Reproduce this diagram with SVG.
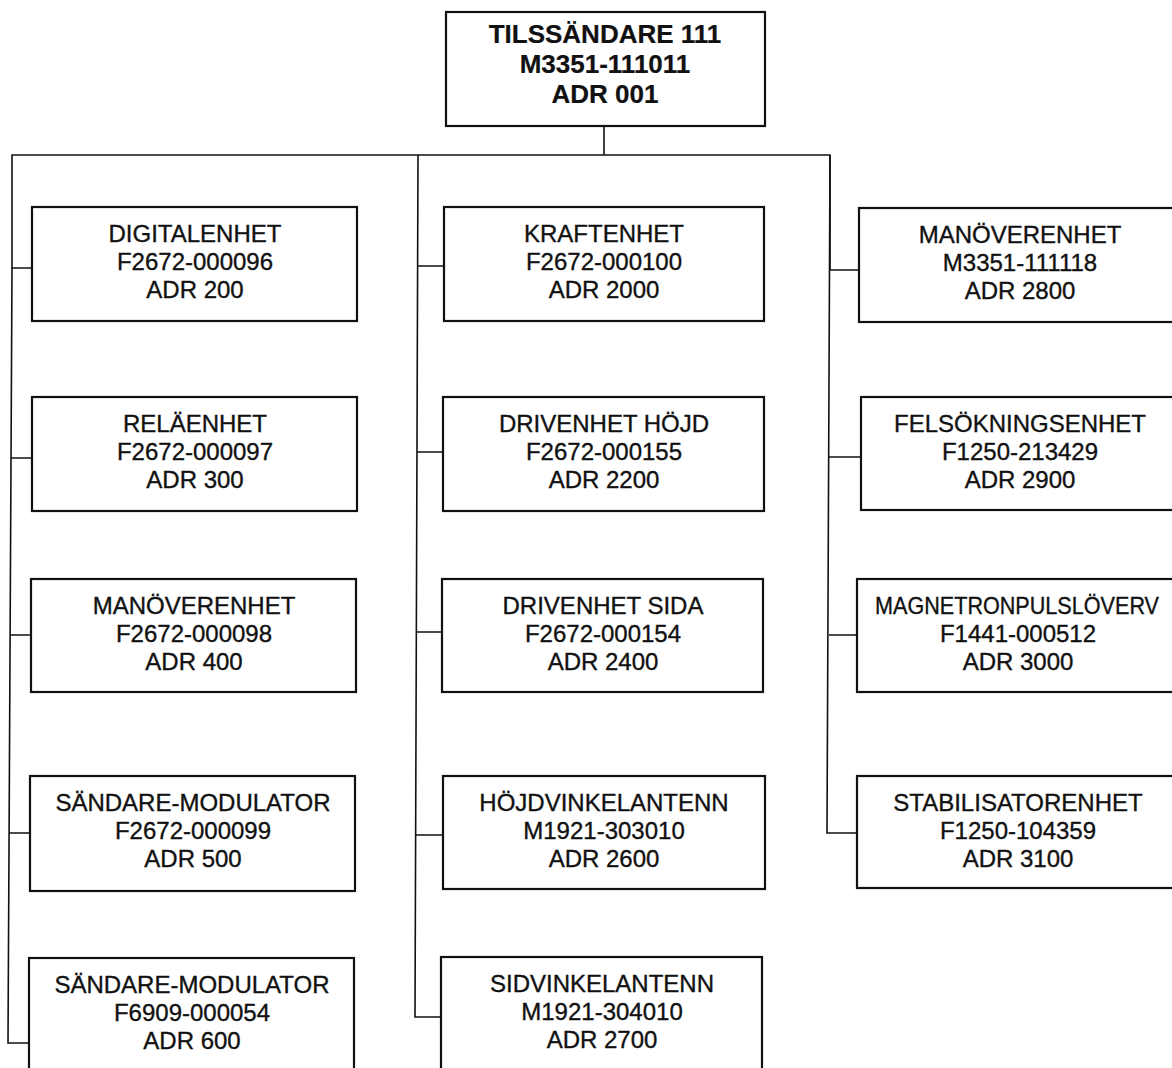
<svg xmlns="http://www.w3.org/2000/svg" width="1172" height="1068" viewBox="0 0 1172 1068">
<style>
.box{fill:#fff;stroke:#111;stroke-width:2.2}
.con{fill:none;stroke:#111;stroke-width:1.6}
text{font-family:"Liberation Sans",Arial,Helvetica,sans-serif;font-size:24px;fill:#111;text-anchor:middle;stroke:#111;stroke-width:0.35}
.b{font-weight:bold;font-size:26px;stroke-width:0.2}
</style>
<rect width="1172" height="1068" fill="#fff"/>
<g id="connectors">
<path class="con" d="M604 126 V155"/>
<path class="con" d="M32 268 H12 V155 H830 V270"/>
<path class="con" d="M12 268 L8 1043 H30"/>
<path class="con" d="M11 458 H32 M10 635 H31 M9 833 H31"/>
<path class="con" d="M418 155 L415 1017 H442"/>
<path class="con" d="M418 266 H444 M417 452 H443 M416 632 H442 M416 835 H443"/>
<path class="con" d="M830 155 L827 833 H857"/>
<path class="con" d="M830 270 H859 M829 457 H861 M829 635 H857"/>
</g>
<g id="n-top"><rect class="box" x="446" y="12" width="319" height="114"/>
<text class="b" x="605" y="43">TILSSÄNDARE 111</text><text class="b" x="605" y="73">M3351-111011</text><text class="b" x="605" y="103">ADR 001</text></g>

<g id="n-digital"><rect class="box" x="32" y="207" width="325" height="114"/>
<text x="195" y="242">DIGITALENHET</text><text x="195" y="270">F2672-000096</text><text x="195" y="298">ADR 200</text></g>
<g id="n-rela"><rect class="box" x="32" y="397" width="325" height="114"/>
<text x="195" y="432">RELÄENHET</text><text x="195" y="460">F2672-000097</text><text x="195" y="488">ADR 300</text></g>
<g id="n-manover1"><rect class="box" x="31" y="579" width="325" height="113"/>
<text x="194" y="614">MANÖVERENHET</text><text x="194" y="642">F2672-000098</text><text x="194" y="670">ADR 400</text></g>
<g id="n-sandare1"><rect class="box" x="30" y="776" width="325" height="115"/>
<text x="193" y="811">SÄNDARE-MODULATOR</text><text x="193" y="839">F2672-000099</text><text x="193" y="867">ADR 500</text></g>
<g id="n-sandare2"><rect class="box" x="29" y="958" width="325" height="125"/>
<text x="192" y="993">SÄNDARE-MODULATOR</text><text x="192" y="1021">F6909-000054</text><text x="192" y="1049">ADR 600</text></g>

<g id="n-kraft"><rect class="box" x="444" y="207" width="320" height="114"/>
<text x="604" y="242">KRAFTENHET</text><text x="604" y="270">F2672-000100</text><text x="604" y="298">ADR 2000</text></g>
<g id="n-drivhojd"><rect class="box" x="443" y="397" width="321" height="114"/>
<text x="604" y="432">DRIVENHET HÖJD</text><text x="604" y="460">F2672-000155</text><text x="604" y="488">ADR 2200</text></g>
<g id="n-drivsida"><rect class="box" x="442" y="579" width="321" height="113"/>
<text x="603" y="614">DRIVENHET SIDA</text><text x="603" y="642">F2672-000154</text><text x="603" y="670">ADR 2400</text></g>
<g id="n-hojdvink"><rect class="box" x="443" y="776" width="322" height="113"/>
<text x="604" y="811">HÖJDVINKELANTENN</text><text x="604" y="839">M1921-303010</text><text x="604" y="867">ADR 2600</text></g>
<g id="n-sidvink"><rect class="box" x="441" y="957" width="321" height="125"/>
<text x="602" y="992">SIDVINKELANTENN</text><text x="602" y="1020">M1921-304010</text><text x="602" y="1048">ADR 2700</text></g>

<g id="n-manover2"><rect class="box" x="859" y="208" width="325" height="114"/>
<text x="1020" y="243">MANÖVERENHET</text><text x="1020" y="271">M3351-111118</text><text x="1020" y="299">ADR 2800</text></g>
<g id="n-felsok"><rect class="box" x="861" y="397" width="325" height="113"/>
<text x="1020" y="432">FELSÖKNINGSENHET</text><text x="1020" y="460">F1250-213429</text><text x="1020" y="488">ADR 2900</text></g>
<g id="n-magnetron"><rect class="box" x="857" y="579" width="325" height="113"/>
<text x="1017" y="614" font-size="22" textLength="284" lengthAdjust="spacingAndGlyphs">MAGNETRONPULSLÖVERV</text><text x="1018" y="642">F1441-000512</text><text x="1018" y="670">ADR 3000</text></g>
<g id="n-stabil"><rect class="box" x="857" y="776" width="325" height="112"/>
<text x="1018" y="811">STABILISATORENHET</text><text x="1018" y="839">F1250-104359</text><text x="1018" y="867">ADR 3100</text></g>
</svg>
